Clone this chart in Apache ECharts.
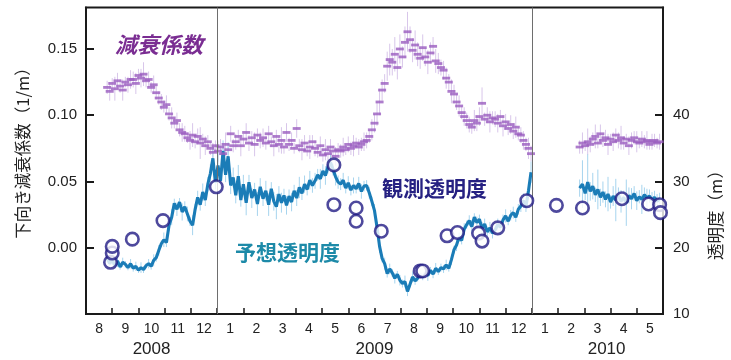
<!DOCTYPE html>
<html>
<head>
<meta charset="utf-8">
<script src="https://cdn.jsdelivr.net/npm/echarts@6/dist/echarts.min.js"></script>
<style>
  html, body { margin: 0; padding: 0; background: #ffffff; }
  #chart { width: 731px; height: 360px; }
</style>
</head>
<body>
<div id="chart"></div>
<script>
// ---- axis labels ----
const monthLabels = ['8','9','10','11','12','1','2','3','4','5','6','7','8','9','10','11','12','1','2','3','4','5'];
const yearLabels = ['2008', '2009', '2010'];
const leftTicks = [0, 0.05, 0.10, 0.15];
const rightTicks = [10, 20, 30, 40];

// ---- time sampling of the model series ----
const sampleStepDays = 3;
const seg1Start = '2008-08-26';
const seg2Start = '2010-02-24';

// Downward attenuation coefficient (1/m), 2008-08 .. 2009-12
const attenSeg1 = [
  0.121,0.118,0.124,0.120,0.126,0.122,0.119,0.125,0.123,0.127,
  0.127,0.124,0.130,0.128,0.131,0.126,0.127,0.121,0.123,0.117,
  0.113,0.110,0.106,0.108,0.101,0.098,0.094,0.096,0.089,0.087,
  0.086,0.083,0.081,0.085,0.080,0.084,0.079,0.082,0.077,0.080,
  0.075,0.072,0.077,0.073,0.076,0.071,0.078,0.074,0.086,0.077,
  0.080,0.084,0.077,0.082,0.087,0.079,0.083,0.078,0.085,0.081,
  0.083,0.079,0.086,0.080,0.077,0.084,0.078,0.081,0.076,0.087,
  0.078,0.081,0.075,0.090,0.077,0.074,0.079,0.073,0.076,0.080,
  0.075,0.072,0.077,0.070,0.074,0.071,0.076,0.073,0.069,0.074,
  0.073,0.076,0.074,0.078,0.075,0.077,0.079,0.076,0.078,0.080,
  0.081,0.084,0.089,0.094,0.101,0.110,0.119,0.124,0.137,0.142,
  0.140,0.146,0.136,0.150,0.144,0.155,0.163,0.157,0.149,0.153,
  0.146,0.143,0.151,0.144,0.140,0.147,0.152,0.141,0.139,0.136,
  0.134,0.128,0.125,0.118,0.116,0.110,0.107,0.102,0.099,0.096,
  0.093,0.091,0.096,0.094,0.099,0.109,0.097,0.100,0.095,0.098,
  0.097,0.094,0.099,0.092,0.095,0.090,0.093,0.088,0.091,0.086,
  0.085,0.081,0.078,0.075,0.071
];
// error half-width, in 0.001 (1/m)
const attenErrSeg1 = [
  5,7,4,9,6,5,8,4,6,7,
  6,8,5,7,9,5,6,4,7,5,
  5,6,4,7,5,8,4,6,5,7,
  6,4,7,9,5,6,12,4,7,5,
  5,7,4,8,6,5,9,4,6,5,
  6,5,8,4,7,6,5,9,5,6,
  7,5,6,4,8,5,6,10,5,7,
  5,6,4,7,5,8,6,4,9,5,
  6,4,7,5,8,5,6,4,7,5,
  5,7,4,6,5,8,4,6,5,7,
  6,5,8,7,9,10,8,7,11,12,
  10,13,9,11,8,12,15,10,9,11,
  9,8,10,7,9,8,7,9,8,6,
  7,8,6,9,7,6,8,5,7,6,
  6,5,8,6,7,12,5,6,8,5,
  6,7,5,8,6,5,7,6,8,5,
  6,7,5,8,6
];
// Downward attenuation coefficient (1/m), 2010-02 .. 2010-05
const attenSeg2 = [
  0.076,0.079,0.077,0.080,0.078,0.082,0.084,0.079,0.086,0.081,
  0.083,0.078,0.082,0.080,0.085,0.081,0.083,0.079,0.082,0.077,
  0.081,0.083,0.080,0.079,0.082,0.080,0.081,0.078,0.080,0.081,
  0.079,0.080
];
const attenErrSeg2 = [
  5,8,4,10,6,5,9,4,7,5,6,8,4,7,5,6,9,5,4,7,6,5,8,4,6,5,7,4,6,5,4,6
];

// Predicted transparency (m), 2008-08 .. 2009-12
const predSeg1 = [
  18.4,17.6,18.2,17.3,18.0,17.1,17.8,17.5,17.0,17.6,
  16.9,17.2,16.6,17.0,16.7,17.3,17.6,17.2,18.1,18.5,
  19.6,20.6,21.2,20.8,23.4,24.6,26.7,25.8,26.9,25.4,
  26.2,25.1,24.0,23.4,25.8,27.6,26.5,28.4,27.2,29.6,
  31.2,33.5,29.8,32.4,30.1,34.6,31.0,33.8,29.4,30.6,
  27.9,30.8,27.2,29.6,26.8,29.9,27.5,28.8,26.6,29.2,
  27.4,28.6,26.5,28.9,27.0,26.2,28.1,26.8,27.9,26.4,
  27.8,26.9,28.6,27.5,29.1,28.2,29.6,28.8,30.2,29.4,
  30.1,31.0,30.4,31.6,30.9,32.2,32.9,31.8,30.7,29.9,
  29.6,30.2,29.0,29.8,28.7,29.4,28.9,29.7,28.5,29.3,
  29.4,28.3,27.0,25.6,23.1,20.2,18.4,17.6,16.1,16.8,
  16.2,15.4,16.0,15.1,14.6,14.9,13.4,14.5,15.6,15.0,
  15.4,16.1,15.6,16.3,15.8,16.6,16.0,16.9,16.4,17.0,
  16.8,17.4,16.9,18.2,19.7,20.4,21.6,21.1,22.8,23.5,
  24.1,23.2,24.6,23.8,24.3,22.9,23.6,22.4,23.0,22.2,
  22.7,23.5,23.1,24.2,24.8,24.0,24.9,25.3,24.6,25.8,
  26.3,27.1,26.2,28.6,31.4
];
// spread of the prediction (m, half-width)
const predSpreadSeg1 = [
  0.6,0.4,0.8,0.5,0.9,0.4,0.7,0.5,0.4,0.7,
  0.5,0.7,0.4,0.8,0.5,0.4,0.7,0.5,0.9,0.6,
  0.8,0.5,1.1,0.7,0.9,1.2,0.7,1.0,0.6,1.3,
  0.8,1.1,0.7,1.5,0.8,1.0,0.9,1.3,0.9,1.1,
  1.4,1.8,1.0,2.0,1.2,1.6,1.1,2.1,1.3,1.5,
  1.2,1.7,1.0,1.4,1.9,1.1,1.5,1.0,1.8,1.3,
  1.1,1.5,1.7,1.0,1.4,1.9,1.2,1.5,1.0,1.4,
  1.0,1.4,0.9,1.2,1.6,1.0,1.3,0.9,1.4,1.1,
  1.2,0.9,1.5,1.0,1.4,1.0,1.2,0.9,1.3,1.0,
  0.9,1.1,0.8,1.0,0.8,1.2,0.7,1.0,1.1,0.8,
  0.8,0.9,0.7,1.0,0.8,1.0,0.6,0.9,0.6,0.8,
  0.6,0.8,0.5,0.8,0.6,0.9,0.7,0.5,0.8,0.6,
  0.5,0.7,0.5,0.6,0.8,0.5,0.6,0.8,0.5,0.6,
  0.6,0.8,0.5,0.8,0.6,0.9,0.7,0.6,0.9,0.6,
  0.8,1.0,0.6,0.9,0.7,1.0,0.8,0.6,0.9,0.8,
  0.7,0.9,0.6,0.8,1.0,0.6,0.8,0.9,0.7,0.8,
  0.9,1.1,0.8,1.3,1.6
];
// Predicted transparency (m), 2010-02 .. 2010-05
const predSeg2 = [
  29.0,29.6,28.2,29.9,28.5,29.3,28.0,28.8,27.6,28.4,
  27.3,28.1,26.9,27.8,27.2,28.0,27.0,27.6,26.8,27.9,
  27.4,28.2,27.1,27.7,27.3,28.0,27.5,27.8,27.2,27.6,
  27.0,27.4
];
const predSpreadSeg2 = [
  1.3,3.6,1.0,4.2,1.4,2.0,1.1,3.0,1.3,1.6,
  1.2,2.6,1.0,1.5,3.2,1.1,1.7,1.0,3.5,1.2,
  1.6,1.1,1.4,1.0,2.2,1.1,1.4,1.0,1.2,1.0,
  1.1,0.9
];

// Observed transparency (m)
const obsDates = [
  '2008-08-30','2008-09-01','2008-09-01','2008-09-24','2008-10-30','2008-12-31',
  '2009-05-15','2009-05-15','2009-06-10','2009-06-10','2009-07-09','2009-08-24',
  '2009-08-27','2009-09-24','2009-10-06','2009-10-31','2009-11-04','2009-11-22',
  '2009-12-26','2010-01-30','2010-02-27','2010-04-14','2010-05-15','2010-05-28',
  '2010-05-29'
];
const obsValues = [
  17.8, 19.2, 20.2, 21.3, 24.1, 29.2,
  32.5, 26.5, 26.0, 24.0, 22.5, 16.5,
  16.5, 21.8, 22.3, 22.2, 21.0, 23.0,
  27.1, 26.4, 26.0, 27.4, 26.6, 26.5,
  25.3
];

// ---- date -> position in months counted from 2008-08-01 ----
const AXIS_YEAR0 = 2008, AXIS_MONTH0 = 7;
const DAY_MS = 86400000;
function monthPos(t) {
  const d = new Date(t);
  const y = d.getUTCFullYear(), m = d.getUTCMonth(), day = d.getUTCDate();
  const dim = new Date(Date.UTC(y, m + 1, 0)).getUTCDate();
  return (y - AXIS_YEAR0) * 12 + (m - AXIS_MONTH0) + (day - 1) / dim;
}
function sampled(start, values, extra, scale) {
  const t0 = Date.parse(start + 'T00:00:00Z');
  return values.map((v, i) => [monthPos(t0 + i * sampleStepDays * DAY_MS), v, extra[i] * scale]);
}
const attenData1 = sampled(seg1Start, attenSeg1, attenErrSeg1, 0.001);
const attenData2 = sampled(seg2Start, attenSeg2, attenErrSeg2, 0.001);
const predData1 = sampled(seg1Start, predSeg1, predSpreadSeg1, 1);
const predData2 = sampled(seg2Start, predSeg2, predSpreadSeg2, 1);
const attenAll = attenData1.concat(attenData2);
const predBarsAll = predData1.concat(predData2);
const predLine = predData1.map(p => [p[0], p[1]]).concat([[null, null]], predData2.map(p => [p[0], p[1]]));
const obsData = obsDates.map((s, i) => [monthPos(Date.parse(s + 'T00:00:00Z')), obsValues[i]]);

// ---- styling ----
const C_PURPLE = '#9a5cbf';
const C_PURPLE_ERR = '#d8c6ea';
const C_BLUE = '#1a7cb7';
const C_BLUE_LIGHT = '#a6d4ee';
const C_NAVY = '#221c85';
const NUM_FONT = '"Liberation Sans", Arial, sans-serif';
const JP_FONT = '"Noto Sans CJK JP", sans-serif';

function errBar(color, width) {
  return function (params, api) {
    const x = api.value(0), v = api.value(1), e = api.value(2);
    const a = api.coord([x, v - e]);
    const b = api.coord([x, v + e]);
    return {
      type: 'line',
      shape: { x1: a[0], y1: a[1], x2: b[0], y2: b[1] },
      style: { stroke: color, lineWidth: width }
    };
  };
}

const chart = echarts.init(document.getElementById('chart'), null, { renderer: 'canvas' });

const option = {
  animation: false,
  backgroundColor: '#ffffff',
  grid: {
    left: 86, right: 68, top: 7.5, bottom: 46,
    show: true, borderColor: '#1a1a1a', borderWidth: 2, backgroundColor: 'transparent'
  },
  xAxis: [
    {
      type: 'category',
      data: monthLabels,
      boundaryGap: true,
      position: 'bottom',
      axisLine: { show: true, onZero: false, lineStyle: { color: '#1a1a1a', width: 2 } },
      axisTick: { show: true, inside: true, length: 6, alignWithLabel: false, interval: 0,
                  lineStyle: { color: '#1a1a1a', width: 1.5 } },
      axisLabel: { interval: 0, fontSize: 14, color: '#222', margin: 8, fontFamily: NUM_FONT },
      splitLine: { show: false }
    },
    {
      type: 'value', min: 0, max: 22, show: false
    }
  ],
  yAxis: [
    {
      type: 'value', min: -0.05, max: 0.1813, interval: 0.05, position: 'left',
      axisLine: { show: true, onZero: false, lineStyle: { color: '#1a1a1a', width: 2 } },
      axisTick: { show: true, inside: true, length: 8, customValues: leftTicks,
                  lineStyle: { color: '#1a1a1a', width: 2 } },
      axisLabel: { customValues: leftTicks, formatter: v => v.toFixed(2),
                   fontSize: 15, color: '#222', margin: 9, fontFamily: NUM_FONT },
      splitLine: { show: false }
    },
    {
      type: 'value', min: 10, max: 56.26, interval: 10, position: 'right',
      axisLine: { show: true, onZero: false, lineStyle: { color: '#1a1a1a', width: 2 } },
      axisTick: { show: true, inside: true, length: 8, customValues: rightTicks,
                  lineStyle: { color: '#1a1a1a', width: 2 } },
      axisLabel: { customValues: rightTicks, formatter: v => String(v),
                   fontSize: 15, color: '#222', margin: 10, fontFamily: NUM_FONT },
      splitLine: { show: false }
    }
  ],
  series: [
    {
      name: 'yearLines', type: 'line', xAxisIndex: 1, yAxisIndex: 0, data: [], z: 1,
      markLine: {
        silent: true, symbol: ['none', 'none'], animation: false,
        label: { show: false },
        lineStyle: { color: '#6e6e6e', width: 1, type: 'solid' },
        data: [{ xAxis: 5 }, { xAxis: 17 }]
      }
    },
    {
      name: 'attenErr', type: 'custom', xAxisIndex: 1, yAxisIndex: 0, z: 2,
      renderItem: errBar(C_PURPLE_ERR, 1),
      encode: { x: 0, y: 1 },
      data: attenAll
    },
    {
      name: 'predSpread', type: 'custom', xAxisIndex: 1, yAxisIndex: 1, z: 2,
      renderItem: errBar(C_BLUE_LIGHT, 1),
      encode: { x: 0, y: 1 },
      data: predBarsAll
    },
    {
      name: '予想透明度', type: 'line', xAxisIndex: 1, yAxisIndex: 1, z: 3,
      showSymbol: false, connectNulls: false,
      lineStyle: { color: C_BLUE, width: 3.1 },
      data: predLine
    },
    {
      name: '減衰係数', type: 'scatter', xAxisIndex: 1, yAxisIndex: 0, z: 4,
      symbol: 'rect', symbolSize: [8, 2.8],
      itemStyle: { color: C_PURPLE },
      data: attenAll.map(p => [p[0], p[1]])
    },
    {
      name: '観測透明度', type: 'scatter', xAxisIndex: 1, yAxisIndex: 1, z: 6,
      symbol: 'circle', symbolSize: 12.5,
      itemStyle: { color: '#ffffff', borderColor: C_NAVY, borderWidth: 2.6 },
      data: obsData
    }
  ]
};
chart.setOption(option);

// ---- text placed on the drawing ----
const yearLabelAt = [2.5, 11, 19.85];
const yearY = 349;
const graphics = yearLabels.map((t, i) => ({
  type: 'text',
  x: chart.convertToPixel({ xAxisIndex: 1 }, yearLabelAt[i]),
  y: yearY,
  style: { text: t, fontSize: 17, fill: '#222', fontFamily: NUM_FONT, align: 'center', verticalAlign: 'middle' }
}));
graphics.push(
  {
    type: 'text', x: 23, y: 149, rotation: Math.PI / 2,
    style: { text: '下向き減衰係数（1/m）', fontSize: 16.5, fill: '#222', fontFamily: JP_FONT,
             align: 'center', verticalAlign: 'middle' }
  },
  {
    type: 'text', x: 716, y: 211, rotation: Math.PI / 2,
    style: { text: '透明度（m）', fontSize: 16.5, fill: '#222', fontFamily: JP_FONT,
             align: 'center', verticalAlign: 'middle' }
  },
  {
    type: 'text', x: 115, y: 45, z: 10,
    style: { text: '減衰係数', fontSize: 22, fontWeight: 'bold', fontStyle: 'italic', fill: '#7a2d92',
             fontFamily: JP_FONT, align: 'left', verticalAlign: 'middle' }
  },
  {
    type: 'text', x: 382, y: 188, z: 10,
    style: { text: '観測透明度', fontSize: 21, fontWeight: 'bold', fill: '#262182',
             fontFamily: JP_FONT, align: 'left', verticalAlign: 'middle' }
  },
  {
    type: 'text', x: 235, y: 252, z: 10,
    style: { text: '予想透明度', fontSize: 21, fontWeight: 'bold', fill: '#1d8aa8',
             fontFamily: JP_FONT, align: 'left', verticalAlign: 'middle' }
  }
);
chart.setOption({ graphic: graphics });
</script>
</body>
</html>
